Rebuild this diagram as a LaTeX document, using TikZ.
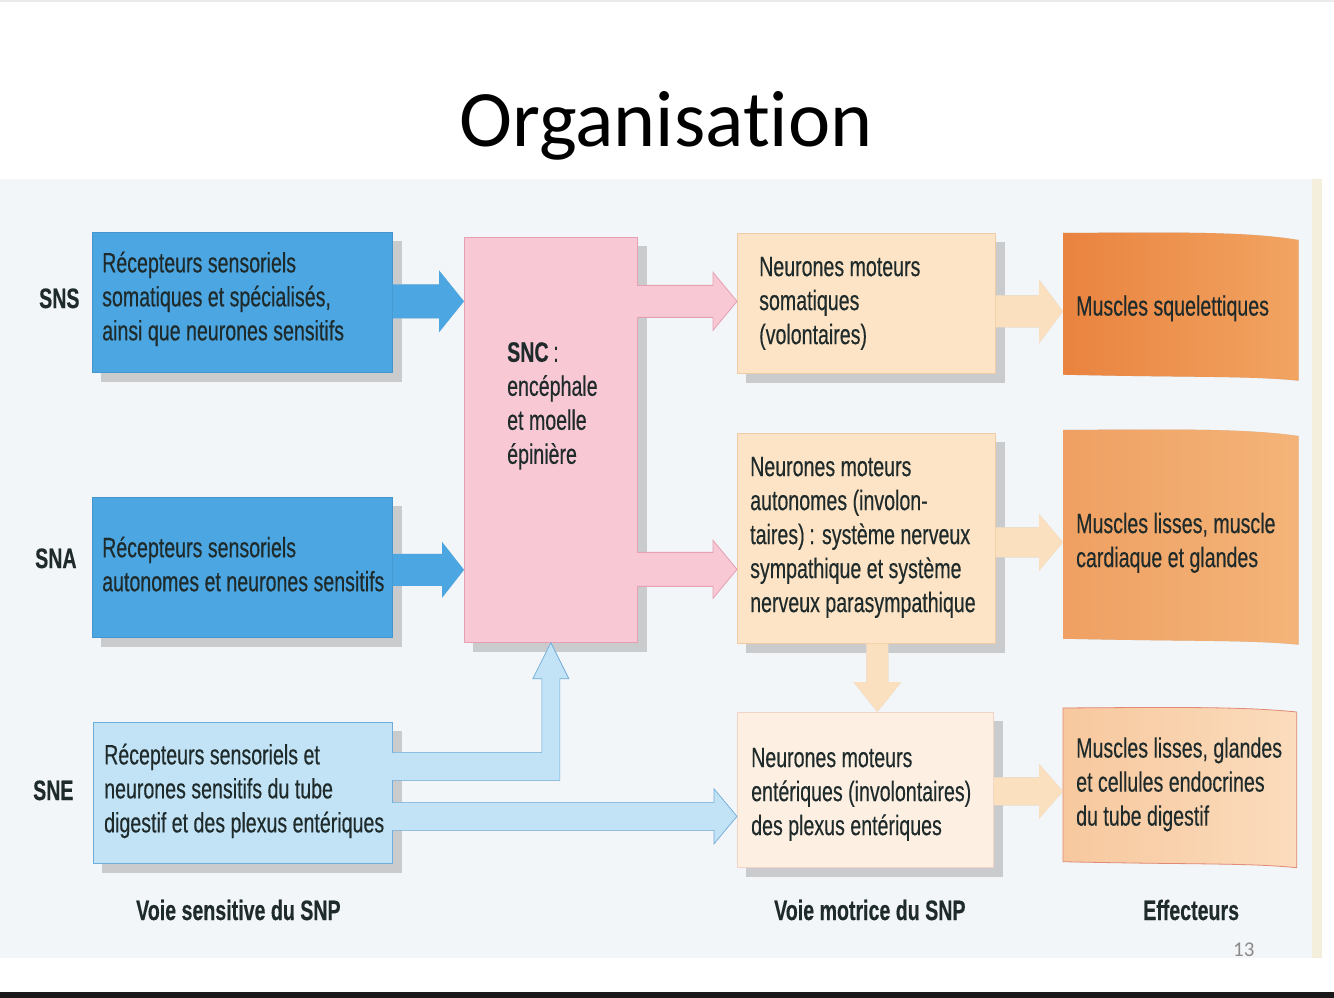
\documentclass[tikz,border=0pt]{standalone}
\usepackage{fontspec}
\newfontfamily\figfont[FakeStretch=0.70,FakeBold=0.35]{Liberation Sans}
\newfontfamily\titlefont[Ligatures=NoCommon]{Carlito}
\usetikzlibrary{calc}
\definecolor{scanbg}{HTML}{F3F6F8}
\definecolor{edgey}{HTML}{F4EEDC}
\definecolor{txtc}{HTML}{1F2A2A}
\definecolor{shadowc}{HTML}{C9CBCD}
\definecolor{blueA}{HTML}{4BA6E2}
\definecolor{blueB}{HTML}{C2E2F6}
\definecolor{blueBd}{HTML}{6FAEDC}
\definecolor{pinkA}{HTML}{F8C8D4}
\definecolor{pinkAd}{HTML}{E6A0B4}
\definecolor{beigeA}{HTML}{FDE4C6}
\definecolor{beigeAd}{HTML}{F0CCA6}
\definecolor{beigeB}{HTML}{FDF0E3}
\definecolor{beigeBd}{HTML}{F2D4C6}
\definecolor{beigeArr}{HTML}{FBE0BF}
\definecolor{musAl}{HTML}{E9833F}
\definecolor{musAr}{HTML}{F2A462}
\definecolor{musBl}{HTML}{EFA062}
\definecolor{musBr}{HTML}{F4B479}
\definecolor{musCl}{HTML}{F7C89E}
\definecolor{musCr}{HTML}{FBDCBD}
\definecolor{musCd}{HTML}{E38A76}
\definecolor{pagenum}{HTML}{8A8A8A}
\pgfdeclarelayer{bg}
\pgfdeclarelayer{shadow}
\pgfdeclarelayer{fills}
\pgfsetlayers{bg,shadow,fills,main}
% horizontal block arrow: style, start anchor, end anchor, dy, shaft half, head half, head length
\newcommand\harrow[7]{\path[#1] let \p1=([yshift=#4]#2), \p2=(#3) in
  ({\x1},{\y1+#5}) -- ({\x2-#7},{\y1+#5}) -- ({\x2-#7},{\y1+#6}) -- ({\x2},{\y1})
  -- ({\x2-#7},{\y1-#6}) -- ({\x2-#7},{\y1-#5}) -- ({\x1},{\y1-#5}) -- cycle;}
% cover the join of an arrow with its source box: colour, start anchor, dy, shaft half
\newcommand\joincover[4]{\fill[#1] let \p1=([yshift=#3]#2) in
  ({\x1-1.2pt},{\y1+#4-0.8pt}) rectangle ({\x1+1.2pt},{\y1-#4+0.8pt});}
% vertical (downward) block arrow
\newcommand\darrow[7]{\path[#1] let \p1=([xshift=#4]#2), \p2=(#3) in
  ({\x1-#5},{\y1}) -- ({\x1-#5},{\y2+#7}) -- ({\x1-#6},{\y2+#7}) -- ({\x1},{\y2})
  -- ({\x1+#6},{\y2+#7}) -- ({\x1+#5},{\y2+#7}) -- ({\x1+#5},{\y1}) -- cycle;}
% L-shaped arrow from SNE up to SNC
\newcommand\larrow[1]{\path[#1] let \p1=([yshift=26.5pt]sne.east), \p2=(snc.south) in
  ({\x1},{\y1+14pt}) -- ({\x2-9pt},{\y1+14pt}) -- ({\x2-9pt},{\y2-36pt}) -- ({\x2-18pt},{\y2-36pt})
  -- ({\x2},{\y2}) -- ({\x2+18pt},{\y2-36pt}) -- ({\x2+9pt},{\y2-36pt}) -- ({\x2+9pt},{\y1-14pt})
  -- ({\x1},{\y1-14pt}) -- cycle;}
% wavy effector card
\newcommand\musshape[3]{\path[#1] let \p1=(#2.north west), \p2=(#2.south east) in
  ({\x1},{\y1}) .. controls ({\x1+130pt},{\y1+1pt}) and ({\x2-50pt},{\y1+1pt}) .. ({\x2},{\y1-#3})
  -- ({\x2},{\y2-3pt}) .. controls ({\x2-50pt},{\y2+2pt}) and ({\x1+130pt},{\y2}) .. ({\x1},{\y2+3pt}) -- cycle;}
\begin{document}
\begin{tikzpicture}[x=1pt,y=-1pt,
  box/.style={rectangle, anchor=north west, inner sep=0pt, line width=0.7pt},
  txt/.style={anchor=west, align=left, inner sep=0pt, text=txtc,
    font=\figfont\fontsize{28}{34}\selectfont},
  lbl/.style={anchor=base west, inner sep=0pt, text=txtc,
    font=\figfont\bfseries\fontsize{28}{34}\selectfont},
  shd/.style={fill=shadowc, shift={(8pt,-8pt)}}]
\useasboundingbox (0,0) rectangle (1334,998);
\begin{pgfonlayer}{bg}
  \fill[white] (0,0) rectangle (1334,998);
  \fill[black!8] (0,0) rectangle (1334,2);
  \fill[scanbg] (0,179) rectangle (1322,958);
  \fill[edgey] (1312,179) rectangle (1322,958);
  \fill[black!90] (0,992) rectangle (1334,998);
\end{pgfonlayer}

\node[anchor=base, inner sep=0pt, font=\titlefont\fontsize{80}{90}\selectfont] (title) at (666,146) {Organisation};

% sensory boxes
\node[box, fill=blueA, draw=blueA!90!black, minimum width=300pt, minimum height=140pt] (sns) at (92,232) {};
\node[box, fill=blueA, draw=blueA!90!black, minimum width=300pt, minimum height=140pt] (sna) at (92,497) {};
\node[box, fill=blueB, draw=blueBd, minimum width=299pt, minimum height=141pt] (sne) at (93,722) {};
% CNS
\node[box, fill=pinkA, draw=pinkAd, minimum width=173pt, minimum height=405pt] (snc) at (464,237) {};
% motor boxes
\node[box, fill=beigeA, draw=beigeAd, minimum width=258pt, minimum height=140pt] (som) at (737,233) {};
\node[box, fill=beigeA, draw=beigeAd, minimum width=258pt, minimum height=210pt] (aut) at (737,433) {};
\node[box, fill=beigeB, draw=beigeBd, minimum width=256pt, minimum height=155pt] (ent) at (737,712) {};
% effectors
\node[box, minimum width=235pt, minimum height=144pt] (mus1) at (1063,233) {};
\node[box, minimum width=235pt, minimum height=211pt] (mus2) at (1063,430) {};
\node[box, minimum width=233pt, minimum height=156pt] (mus3) at (1063,708) {};

\begin{pgfonlayer}{shadow}
  \foreach \n in {sns,sna,sne,snc,som,aut,ent}{
    \fill[shadowc] ([shift={(9pt,-9pt)}]\n.north west) rectangle ([shift={(9pt,-9pt)}]\n.south east);}
  \musshape{shd}{mus1}{7pt}
  \musshape{shd}{mus2}{6pt}
  \musshape{shd}{mus3}{4pt}
  \harrow{shd}{sns.east}{snc.west}{1pt}{17pt}{31pt}{25pt}
  \harrow{shd}{sna.east}{snc.west}{-2.5pt}{16pt}{28pt}{22pt}
  \harrow{shd}{snc.east}{som.west}{138.5pt}{16pt}{29pt}{24pt}
  \harrow{shd}{snc.east}{aut.west}{-129.5pt}{17pt}{29pt}{24pt}
  \harrow{shd}{som.east}{mus1.west}{-8pt}{16pt}{32pt}{24pt}
  \harrow{shd}{aut.east}{mus2.west}{-4pt}{15pt}{28.5pt}{24pt}
  \harrow{shd}{ent.east}{mus3.west}{-1.5pt}{14pt}{27.5pt}{24pt}
  \harrow{shd}{sne.east}{ent.west}{-23.5pt}{14pt}{27.5pt}{23pt}
  \darrow{shd}{aut.south}{ent.north}{11pt}{11pt}{24pt}{30pt}
  \larrow{shd}
\end{pgfonlayer}

\begin{pgfonlayer}{fills}
  \musshape{left color=musAl, right color=musAr}{mus1}{7pt}
  \musshape{left color=musBl, right color=musBr}{mus2}{6pt}
  \musshape{left color=musCl, right color=musCr, draw=musCd, line width=0.8pt}{mus3}{4pt}
\end{pgfonlayer}

% connectors
\harrow{fill=blueA}{sns.east}{snc.west}{1pt}{17pt}{31pt}{25pt}
\harrow{fill=blueA}{sna.east}{snc.west}{-2.5pt}{16pt}{28pt}{22pt}
\harrow{fill=pinkA, draw=pinkAd, line width=0.8pt}{snc.east}{som.west}{138.5pt}{16pt}{29pt}{24pt}
\harrow{fill=pinkA, draw=pinkAd, line width=0.8pt}{snc.east}{aut.west}{-129.5pt}{17pt}{29pt}{24pt}
\harrow{fill=beigeArr}{som.east}{mus1.west}{-8pt}{16pt}{32pt}{24pt}
\harrow{fill=beigeArr}{aut.east}{mus2.west}{-4pt}{15pt}{28.5pt}{24pt}
\harrow{fill=beigeArr}{ent.east}{mus3.west}{-1.5pt}{14pt}{27.5pt}{24pt}
\darrow{fill=beigeArr}{aut.south}{ent.north}{11pt}{11pt}{24pt}{30pt}
\harrow{fill=blueB, draw=blueBd, line width=0.7pt}{sne.east}{ent.west}{-23.5pt}{14pt}{27.5pt}{23pt}
\larrow{fill=blueB, draw=blueBd, line width=0.7pt}
% open the joins where arrows leave their boxes
\joincover{blueB}{sne.east}{26.5pt}{14pt}
\joincover{blueB}{sne.east}{-23.5pt}{14pt}
\joincover{pinkA}{snc.east}{138.5pt}{16pt}
\joincover{pinkA}{snc.east}{-129.5pt}{17pt}

% texts
\node[txt] (snsT) at ([xshift=10pt,yshift=3.4pt]sns.west) {Récepteurs sensoriels\\somatiques et spécialisés,\\ainsi que neurones sensitifs};
\node[txt] (snaT) at ([xshift=10pt,yshift=3.3pt]sna.west) {Récepteurs sensoriels\\autonomes et neurones sensitifs};
\node[txt] (sneT) at ([xshift=11pt,yshift=1.9pt]sne.west) {Récepteurs sensoriels et\\neurones sensitifs du tube\\digestif et des plexus entériques};
\node[txt, anchor=north west] (sncT) at ([xshift=43pt,yshift=-105pt]snc.north west) {\textbf{SNC}\,:\\encéphale\\et moelle\\épinière};
\node[txt] (somT) at ([xshift=22pt]som.west) {Neurones moteurs\\somatiques\\(volontaires)};
\node[txt] (autT) at ([xshift=13pt,yshift=1pt]aut.west) {Neurones moteurs\\autonomes (involon-\\taires)\,: système nerveux\\sympathique et système\\nerveux parasympathique};
\node[txt] (entT) at ([xshift=14pt,yshift=-4.5pt]ent.west) {Neurones moteurs\\entériques (involontaires)\\des plexus entériques};
\node[txt] (mus1T) at ([xshift=13pt,yshift=-3pt]mus1.west) {Muscles squelettiques};
\node[txt] (mus2T) at ([xshift=13pt,yshift=-7pt]mus2.west) {Muscles lisses, muscle\\cardiaque et glandes};
\node[txt] (mus3T) at ([xshift=13pt,yshift=2pt]mus3.west) {Muscles lisses, glandes\\et cellules endocrines\\du tube digestif};

% side and bottom labels
\node[lbl] (lSNS) at (39,308) {SNS};
\node[lbl] (lSNA) at (35,568) {SNA};
\node[lbl] (lSNE) at (33,800) {SNE};
\node[lbl] (lsens) at (136,920) {Voie sensitive du SNP};
\node[lbl] (lmot) at (774,920) {Voie motrice du SNP};
\node[lbl] (leff) at (1143,920) {Effecteurs};
\node[anchor=base west, inner sep=0pt, text=pagenum, font=\titlefont\fontsize{21}{24}\selectfont] (pnum) at (1233,956) {13};
\end{tikzpicture}
\end{document}
